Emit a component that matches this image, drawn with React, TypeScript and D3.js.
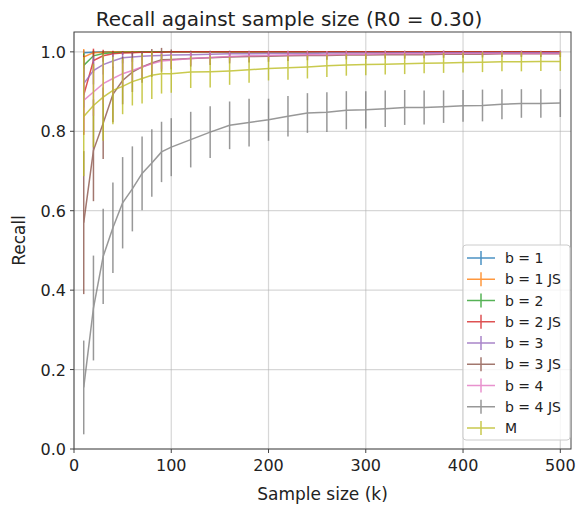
import React from "react";
import * as d3 from "d3";

const xs = [10, 20, 30, 40, 50, 60, 70, 80, 90, 100, 120, 140, 160, 180, 200, 220, 240, 260, 280, 300, 320, 340, 360, 380, 400, 420, 440, 460, 480, 500];

const seriesNames = ["b = 1", "b = 1 JS", "b = 2", "b = 2 JS", "b = 3", "b = 3 JS", "b = 4", "b = 4 JS", "M"];
const colors = ["#1f77b4", "#ff7f0e", "#2ca02c", "#d62728", "#9467bd", "#8c564b", "#e377c2", "#7f7f7f", "#bcbd22"];

const b1 = [0.998, 0.999, 1.0, 1.0, 1.0, 1.0, 1.0, 1.0, 1.0, 1.0, 1.0, 1.0, 1.0, 1.0, 1.0, 1.0, 1.0, 1.0, 1.0, 1.0, 1.0, 1.0, 1.0, 1.0, 1.0, 1.0, 1.0, 1.0, 1.0, 1.0];
const b1Err = [0.006, 0.003, 0.001, 0.001, 0.001, 0.001, 0.001, 0.001, 0.001, 0.001, 0.001, 0.001, 0.001, 0.001, 0.001, 0.001, 0.001, 0.001, 0.001, 0.001, 0.001, 0.001, 0.001, 0.001, 0.001, 0.001, 0.001, 0.001, 0.001, 0.001];
const b1js = [0.987, 0.998, 0.999, 1.0, 1.0, 1.0, 1.0, 1.0, 1.0, 1.0, 1.0, 1.0, 1.0, 1.0, 1.0, 1.0, 1.0, 1.0, 1.0, 1.0, 1.0, 1.0, 1.0, 1.0, 1.0, 1.0, 1.0, 1.0, 1.0, 1.0];
const b1jsErr = [0.02, 0.006, 0.003, 0.002, 0.001, 0.001, 0.001, 0.001, 0.001, 0.001, 0.001, 0.001, 0.001, 0.001, 0.001, 0.001, 0.001, 0.001, 0.001, 0.001, 0.001, 0.001, 0.001, 0.001, 0.001, 0.001, 0.001, 0.001, 0.001, 0.001];
const b2 = [0.966, 0.99, 0.996, 0.998, 0.999, 0.999, 1.0, 1.0, 1.0, 1.0, 1.0, 1.0, 1.0, 1.0, 1.0, 1.0, 1.0, 1.0, 1.0, 1.0, 1.0, 1.0, 1.0, 1.0, 1.0, 1.0, 1.0, 1.0, 1.0, 1.0];
const b2Err = [0.03, 0.012, 0.006, 0.004, 0.003, 0.002, 0.002, 0.001, 0.001, 0.001, 0.001, 0.001, 0.001, 0.001, 0.001, 0.001, 0.001, 0.001, 0.001, 0.001, 0.001, 0.001, 0.001, 0.001, 0.001, 0.001, 0.001, 0.001, 0.001, 0.001];
const b2js = [0.891, 0.978, 0.99, 0.995, 0.997, 0.998, 0.999, 0.999, 0.999, 1.0, 1.0, 1.0, 1.0, 1.0, 1.0, 1.0, 1.0, 1.0, 1.0, 1.0, 1.0, 1.0, 1.0, 1.0, 1.0, 1.0, 1.0, 1.0, 1.0, 1.0];
const b2jsErr = [0.1, 0.03, 0.015, 0.008, 0.005, 0.004, 0.003, 0.002, 0.002, 0.002, 0.001, 0.001, 0.001, 0.001, 0.001, 0.001, 0.001, 0.001, 0.001, 0.001, 0.001, 0.001, 0.001, 0.001, 0.001, 0.001, 0.001, 0.001, 0.001, 0.001];
const b3 = [0.92, 0.953, 0.968, 0.977, 0.985, 0.987, 0.989, 0.99, 0.991, 0.992, 0.993, 0.994, 0.995, 0.995, 0.996, 0.996, 0.996, 0.997, 0.997, 0.997, 0.997, 0.998, 0.998, 0.998, 0.998, 0.998, 0.998, 0.998, 0.998, 0.998];
const b3Err = [0.06, 0.035, 0.025, 0.018, 0.014, 0.012, 0.01, 0.009, 0.008, 0.007, 0.006, 0.005, 0.005, 0.004, 0.004, 0.004, 0.003, 0.003, 0.003, 0.003, 0.003, 0.003, 0.003, 0.003, 0.002, 0.002, 0.002, 0.002, 0.002, 0.002];
const b3js = [0.57, 0.752, 0.82, 0.893, 0.928, 0.949, 0.962, 0.972, 0.98, 0.981, 0.983, 0.985, 0.987, 0.988, 0.989, 0.99, 0.991, 0.991, 0.992, 0.992, 0.993, 0.993, 0.993, 0.994, 0.994, 0.994, 0.995, 0.995, 0.995, 0.995];
const b3jsErr = [0.18, 0.128, 0.09, 0.07, 0.06, 0.05, 0.04, 0.035, 0.03, 0.025, 0.02, 0.018, 0.016, 0.015, 0.014, 0.013, 0.012, 0.011, 0.011, 0.01, 0.01, 0.01, 0.009, 0.009, 0.009, 0.008, 0.008, 0.008, 0.008, 0.008];
const b4 = [0.878, 0.899, 0.92, 0.933, 0.945, 0.953, 0.962, 0.97, 0.977, 0.979, 0.983, 0.986, 0.988, 0.99, 0.991, 0.992, 0.993, 0.993, 0.994, 0.994, 0.995, 0.995, 0.995, 0.996, 0.996, 0.996, 0.996, 0.996, 0.996, 0.996];
const b4Err = [0.08, 0.06, 0.05, 0.04, 0.035, 0.03, 0.026, 0.023, 0.02, 0.018, 0.016, 0.014, 0.012, 0.011, 0.01, 0.01, 0.009, 0.009, 0.008, 0.008, 0.008, 0.007, 0.007, 0.007, 0.007, 0.006, 0.006, 0.006, 0.006, 0.006];
const b4js = [0.155, 0.355, 0.485, 0.557, 0.62, 0.655, 0.694, 0.72, 0.748, 0.76, 0.779, 0.798, 0.815, 0.822, 0.829, 0.838, 0.846, 0.848, 0.853, 0.854, 0.857, 0.86, 0.86, 0.862, 0.864, 0.865, 0.868, 0.87, 0.87, 0.871];
const b4jsErr = [0.118, 0.132, 0.12, 0.114, 0.115, 0.107, 0.093, 0.085, 0.076, 0.073, 0.07, 0.065, 0.06, 0.06, 0.053, 0.051, 0.05, 0.05, 0.048, 0.047, 0.046, 0.044, 0.043, 0.041, 0.04, 0.04, 0.038, 0.036, 0.036, 0.035];
const m = [0.837, 0.865, 0.886, 0.903, 0.913, 0.925, 0.933, 0.941, 0.945, 0.945, 0.949, 0.95, 0.952, 0.955, 0.958, 0.96, 0.962, 0.965, 0.967, 0.968, 0.969, 0.97, 0.971, 0.972, 0.973, 0.974, 0.975, 0.975, 0.976, 0.976];
const mErr = [0.15, 0.105, 0.11, 0.085, 0.07, 0.06, 0.063, 0.06, 0.05, 0.048, 0.04, 0.04, 0.035, 0.033, 0.03, 0.03, 0.029, 0.028, 0.027, 0.027, 0.026, 0.026, 0.025, 0.025, 0.025, 0.025, 0.024, 0.024, 0.024, 0.024];

const values = [b1, b1js, b2, b2js, b3, b3js, b4, b4js, m];
const errors = [b1Err, b1jsErr, b2Err, b2jsErr, b3Err, b3jsErr, b4Err, b4jsErr, mErr];

const xTicks = [0, 100, 200, 300, 400, 500];
const yTicks = [0.0, 0.2, 0.4, 0.6, 0.8, 1.0];

const W = 582, H = 507;
const L = 74, R = 571, T = 32, B = 449;
const FONT = "DejaVu Sans, sans-serif";

export default function App() {
  const x = d3.scaleLinear().domain([0, 511]).range([L, R]);
  const y = d3.scaleLinear().domain([0, 1.05]).range([B, T]);
  const line = d3.line<number>().x((_, i) => x(xs[i])).y((d) => y(d));

  const legX = 463, legY = 245, legW = 107, legH = 195;
  const rowH = 21.25;
  const op = 0.8;

  return (
    <svg width={W} height={H} style={{ position: "absolute", left: 0, top: 0 }}>
      <rect x={0} y={0} width={W} height={H} fill="#fff" />
      <defs>
        <clipPath id="plotclip">
          <rect x={L} y={T} width={R - L} height={B - T} />
        </clipPath>
      </defs>
      {xTicks.map((t) => (
        <line key={"gx" + t} x1={x(t)} x2={x(t)} y1={T} y2={B} stroke="#b0b0b0" strokeOpacity={0.5} strokeWidth={1.2} />
      ))}
      {yTicks.map((t) => (
        <line key={"gy" + t} x1={L} x2={R} y1={y(t)} y2={y(t)} stroke="#b0b0b0" strokeOpacity={0.5} strokeWidth={1.2} />
      ))}
      <g clipPath="url(#plotclip)">
        {values.map((vals, si) => (
          <g key={seriesNames[si]} opacity={op}>
            <path d={line(vals) || ""} fill="none" stroke={colors[si]} strokeWidth={1.5} />
            {vals.map((v, i) => (
              <line
                key={i}
                x1={x(xs[i])}
                x2={x(xs[i])}
                y1={y(v - errors[si][i])}
                y2={y(v + errors[si][i])}
                stroke={colors[si]}
                strokeWidth={1.5}
              />
            ))}
          </g>
        ))}
      </g>
      <rect x={L} y={T} width={R - L} height={B - T} fill="none" stroke="#444" strokeWidth={1} />
      {xTicks.map((t) => (
        <g key={"tx" + t}>
          <line x1={x(t)} x2={x(t)} y1={B} y2={B + 4} stroke="#444" />
          <text x={x(t)} y={B + 22} textAnchor="middle" fontFamily={FONT} fontSize={16} fill="#222">{t}</text>
        </g>
      ))}
      {yTicks.map((t) => (
        <g key={"ty" + t}>
          <line x1={L - 4} x2={L} y1={y(t)} y2={y(t)} stroke="#444" />
          <text x={L - 8} y={y(t) + 6} textAnchor="end" fontFamily={FONT} fontSize={16} fill="#222">{t.toFixed(1)}</text>
        </g>
      ))}
      <text x={289} y={26} textAnchor="middle" fontFamily={FONT} fontSize={20} fill="#222">Recall against sample size (R0 = 0.30)</text>
      <text x={(L + R) / 2} y={500} textAnchor="middle" fontFamily={FONT} fontSize={17} fill="#222">Sample size (k)</text>
      <text transform={`translate(25, ${(T + B) / 2}) rotate(-90)`} textAnchor="middle" fontFamily={FONT} fontSize={17} fill="#222">Recall</text>
      <rect x={legX} y={legY} width={legW} height={legH} rx={3} fill="#fff" fillOpacity={0.8} stroke="#ccc" />
      {seriesNames.map((n, i) => {
        const cy = legY + 13 + i * rowH;
        return (
          <g key={"leg" + n}>
            <g opacity={op}>
              <line x1={legX + 4} x2={legX + 32} y1={cy} y2={cy} stroke={colors[i]} strokeWidth={1.5} />
              <line x1={legX + 18} x2={legX + 18} y1={cy - 7} y2={cy + 7} stroke={colors[i]} strokeWidth={1.5} />
            </g>
            <text x={legX + 42} y={cy + 5} fontFamily={FONT} fontSize={14} fill="#222">{n}</text>
          </g>
        );
      })}
    </svg>
  );
}
